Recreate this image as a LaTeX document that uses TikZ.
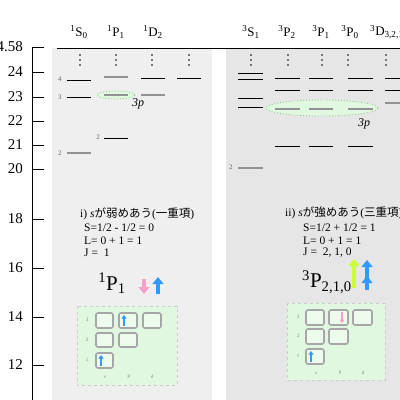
\documentclass[tikz,border=0pt]{standalone}
\usepackage{fontspec}
\setmainfont{Liberation Serif}
\newfontfamily\jpfont{Noto Sans CJK JP}
\usetikzlibrary{arrows.meta}
\definecolor{panelA}{HTML}{EFEFEF}
\definecolor{panelB}{HTML}{E6E6E6}
\definecolor{gfill}{HTML}{E0F8E0}
\definecolor{gline}{HTML}{88CC88}
\definecolor{pinkar}{HTML}{F4A0C8}
\definecolor{bluear}{HTML}{3399FF}
\definecolor{limear}{HTML}{CCFF33}
\tikzset{
  lvl/.style={line width=0.9pt, draw=black},
  glvl/.style={line width=1.5pt, draw=gray!85},
  tick/.style={line width=0.9pt},
  axnum/.style={font=\fontsize{15}{15}\selectfont, anchor=east, inner sep=0pt},
  hdr/.style={font=\fontsize{13}{13}\selectfont, inner sep=0pt},
  lnum/.style={font=\fontsize{7}{7}\selectfont, text=gray!80!black, inner sep=0pt},
  txt/.style={font=\fontsize{11.5}{12.5}\selectfont, anchor=west, inner sep=0pt},
  gbox/.style={draw=gray!70, line width=1.6pt, rounded corners=2pt, fill=gfill!60!white},
  gpanel/.style={fill=gfill, draw=gray!40, dashed, line width=0.5pt},
  tiny/.style={font=\fontsize{5}{5}\selectfont, text=gray, inner sep=0pt},
  oval/.style={draw=gline, dotted, line width=0.9pt, fill=gfill},
  bigarrow/.style={line width=4.5pt, -{Triangle[width=11pt,length=7pt]}},
  smallarrow/.style={line width=1.8pt, -{Triangle[width=5pt,length=3.5pt]}}
}
\newcommand{\jj}[1]{{\jpfont #1}}
\begin{document}
\begin{tikzpicture}[x=1pt,y=-1pt]
\useasboundingbox (0,0) rectangle (400,400);
% panels
\fill[panelA] (52,48) rectangle (212,400);
\fill[panelB] (226,48) rectangle (400,400);
\coordinate (tl) at (57,48);
\coordinate (tr) at (400,48);
\draw[line width=0.8pt] (tl) -- (tr);
% axis
\coordinate (ax0) at (32,47);
\coordinate (ax1) at (32,400);
\draw[line width=1pt] (ax0) -- (ax1);
\foreach \y/\l in {47/24.58,72/24,97/23,121/22,145/21,169/20,219/18,268/16,317/14,365/12}{
  \draw[tick] (32,\y) -- (44,\y);
  \node[axnum] (ax\l) at (23,\y) {\l};
}
% headers
\node[hdr] (h1) at (79,32) {\textsuperscript{1}S\textsubscript{0}};
\node[hdr] (h2) at (116,32) {\textsuperscript{1}P\textsubscript{1}};
\node[hdr] (h3) at (153,32) {\textsuperscript{1}D\textsubscript{2}};
\node[hdr] (h4) at (251,32) {\textsuperscript{3}S\textsubscript{1}};
\node[hdr] (h5) at (287,32) {\textsuperscript{3}P\textsubscript{2}};
\node[hdr] (h6) at (321,32) {\textsuperscript{3}P\textsubscript{1}};
\node[hdr] (h7) at (350,32) {\textsuperscript{3}P\textsubscript{0}};
\node[hdr, anchor=west] (h8) at (370,32) {\textsuperscript{3}D\textsubscript{3,2,1}};
% vertical dots
\foreach \x in {80,116,152,189,251,288,322,348,386}{
  \foreach \y in {55,60,65}{\fill (\x,\y) circle[radius=0.9pt];}
}
% ellipses
\draw[oval] (116,95) ellipse[x radius=19pt, y radius=4pt];
\draw[oval] (322,108) ellipse[x radius=56pt, y radius=8pt];
\node[font=\itshape\fontsize{12}{12}\selectfont, inner sep=0pt] (p3a) at (138,104) {3\textit{p}};
\node[font=\itshape\fontsize{12}{12}\selectfont, inner sep=0pt] (p3b) at (364,124) {3\textit{p}};
% left levels
\draw[lvl] (67,80) -- (91,80);
\draw[lvl] (67,97) -- (91,97);
\draw[glvl] (67,153) -- (91,153);
\node[lnum] (n4) at (60,79) {4};
\node[lnum] (n3) at (60,97) {3};
\node[lnum] (n2) at (60,153) {2};
\draw[glvl] (104,77) -- (128,77);
\draw[glvl] (104,95) -- (128,95);
\draw[lvl] (104,138) -- (128,138);
\node[lnum] (n2b) at (98,137) {2};
\draw[lvl] (141,78) -- (165,78);
\draw[glvl] (141,95) -- (165,95);
\draw[lvl] (177,78) -- (201,78);
% right levels
\draw[lvl] (238,73) -- (263,73);
\draw[lvl] (238,79) -- (263,79);
\draw[lvl] (238,98) -- (263,98);
\draw[lvl] (238,107) -- (263,107);
\draw[glvl] (238,168) -- (263,168);
\node[lnum] (n2c) at (231,167) {2};
\foreach \a/\b in {275/300,309/333,348/373}{
  \draw[lvl] (\a,78) -- (\b,78);
  \draw[lvl] (\a,90) -- (\b,90);
  \draw[glvl] (\a,109) -- (\b,109);
  \draw[lvl] (\a,146) -- (\b,146);
}
\draw[lvl] (385,78) -- (400,78);
\draw[lvl] (385,90) -- (400,90);
\draw[glvl] (385,103) -- (400,103);
% left text
\node[txt] (ta) at (80,214) {i) \textit{s}\jj{が弱めあう}(\jj{一重項})};
\node[txt] (tb) at (84,228) {S=1/2 - 1/2 = 0};
\node[txt] (tc) at (84,241) {L= 0 + 1 = 1};
\node[txt] (td) at (84,253) {J =\ \ 1};
\node[font=\fontsize{21}{21}\selectfont, inner sep=0pt] (P1) at (112,283) {\textsuperscript{1}P\textsubscript{1}};
\coordinate (pa0) at (144,279);
\coordinate (pa1) at (144,294);
\coordinate (ba0) at (158,294);
\coordinate (ba1) at (158,277);
\draw[bigarrow, pinkar] (pa0) -- (pa1);
\draw[bigarrow, bluear] (ba0) -- (ba1);
% right text
\node[txt] (te) at (285,213) {ii) \textit{s}\jj{が強めあう}(\jj{三重項})};
\node[txt] (tf) at (303,228) {S=1/2 + 1/2 = 1};
\node[txt] (tg) at (303,241) {L= 0 + 1 = 1};
\node[txt] (th) at (303,253) {J =\ \ 2, 1, 0};
\node[font=\fontsize{21}{21}\selectfont, inner sep=0pt, anchor=west] (P3) at (302,282) {\textsuperscript{3}P\textsubscript{2,1,0}};
\coordinate (la0) at (354,288);
\coordinate (la1) at (354,259);
\draw[bigarrow, limear] (la0) -- (la1);
\coordinate (bb0) at (367,290);
\coordinate (bb1) at (367,260);
\draw[bigarrow, bluear] (bb0) -- (bb1);
\fill[bluear] (361.5,283) -- (367,275.5) -- (372.5,283) -- cycle;
% left grid
\draw[gpanel] (77,306) rectangle (177,385);
\draw[gbox] (96,313) rectangle (113,328);
\draw[gbox] (119,313) rectangle (137,328);
\draw[gbox] (143,313) rectangle (161,328);
\draw[gbox] (96,333) rectangle (113,347);
\draw[gbox] (119,333) rectangle (137,347);
\draw[gbox] (96,353) rectangle (113,368);
\node[tiny] (l3) at (87,320) {3};
\node[tiny] (l2) at (87,340) {2};
\node[tiny] (l1) at (87,360) {1};
\node[tiny] (ls) at (105,377) {s};
\node[tiny] (lp) at (129,377) {p};
\node[tiny] (ld) at (152,377) {d};
\draw[smallarrow, bluear] (124,326) -- (124,315);
\draw[smallarrow, bluear] (101,366) -- (101,355);
% right grid
\draw[gpanel] (287,303) rectangle (385,380);
\draw[gbox] (306,310) rectangle (324,325);
\draw[gbox] (329,310) rectangle (348,325);
\draw[gbox] (353,310) rectangle (372,325);
\draw[gbox] (306,329) rectangle (324,344);
\draw[gbox] (329,329) rectangle (348,344);
\draw[gbox] (306,349) rectangle (324,364);
\node[tiny] (r3) at (298,317) {3};
\node[tiny] (r2) at (298,336) {2};
\node[tiny] (r1) at (298,356) {1};
\node[tiny] (rs) at (316,373) {s};
\node[tiny] (rp) at (340,373) {p};
\node[tiny] (rd) at (363,373) {d};
\draw[smallarrow, pinkar] (342,312) -- (342,323);
\draw[smallarrow, bluear] (311,362) -- (311,351);
\end{tikzpicture}
\end{document}
